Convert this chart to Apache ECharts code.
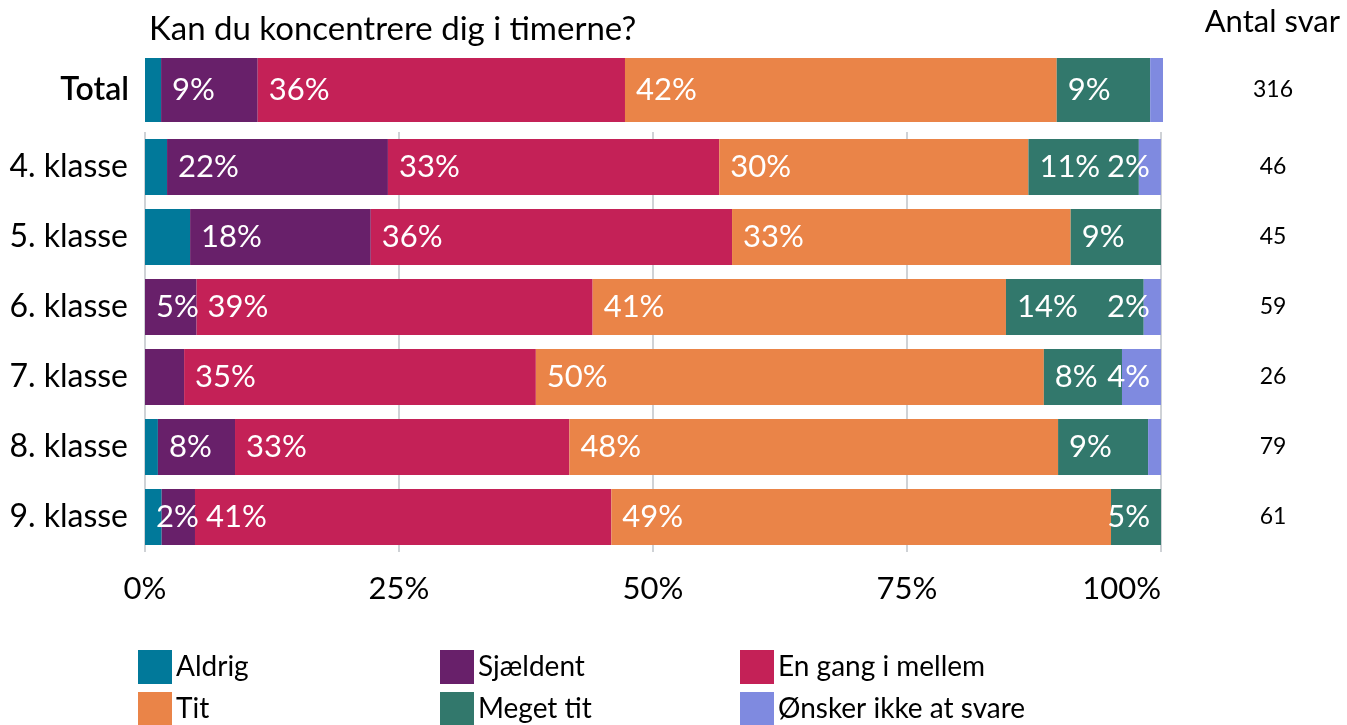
<!DOCTYPE html>
<html>
<head>
<meta charset="utf-8">
<script src="https://cdn.jsdelivr.net/npm/echarts@6/dist/echarts.min.js"></script>
<style>
  html, body { margin: 0; padding: 0; background: #ffffff; }
  #chart { width: 1347px; height: 725px; }
</style>
</head>
<body>
<div id="chart"></div>
<script>
// Survey: "Kan du koncentrere dig i timerne?" — share of answers per grade (percent)
const classes = ['4. klasse', '5. klasse', '6. klasse', '7. klasse', '8. klasse', '9. klasse'];
const classCounts = [46, 45, 59, 26, 79, 61];
const totalLabel = 'Total';
const totalCount = 316;

const answers = ['Aldrig', 'Sjældent', 'En gang i mellem', 'Tit', 'Meget tit', 'Ønsker ikke at svare'];

// Percent per grade, one array per answer
const aldrig    = [2.17, 4.44, 0, 0, 1.27, 1.64];
const sjaeldent = [21.74, 17.78, 5.08, 3.85, 7.59, 3.28];
const engang    = [32.61, 35.56, 38.98, 34.62, 32.91, 40.98];
const tit       = [30.43, 33.33, 40.68, 50.00, 48.10, 49.18];
const megetTit  = [10.87, 8.89, 13.56, 7.69, 8.86, 4.92];
const oensker   = [2.17, 0, 1.69, 3.85, 1.27, 0];

// Percent for all pupils, in the order of `answers`
const totalValues = [1.58, 9.49, 36.08, 42.41, 9.18, 1.27];

const xTicks = [0, 25, 50, 75, 100];

// Segments whose value label is left out
const hiddenLabels = [
  'Total|Aldrig', 'Total|Ønsker ikke at svare',
  '4. klasse|Aldrig', '5. klasse|Aldrig', '7. klasse|Sjældent',
  '8. klasse|Aldrig', '8. klasse|Ønsker ikke at svare', '9. klasse|Sjældent'
];

const colors = ['#01799a', '#68206a', '#c42157', '#ea8448', '#32786c', '#7f8ae0'];
const FONT = 'Lato, "Noto Sans", sans-serif';
const classSeriesValues = [aldrig, sjaeldent, engang, tit, megetTit, oensker];

function makeData(rowNames, values, seriesIdx) {
  return values.map((v, i) => {
    const key = rowNames[i] + '|' + answers[seriesIdx];
    // value up to and including this segment, to see whether it closes the bar
    let end = 0;
    for (let s = 0; s <= seriesIdx; s++) {
      end += rowNames === classes ? classSeriesValues[s][i] : totalValues[s];
    }
    const closesBar = end > 99.9 && v < 8;
    const show = v > 0 && hiddenLabels.indexOf(key) < 0;
    return {
      value: v,
      label: {
        show: show,
        position: closesBar ? 'insideRight' : 'insideLeft',
        distance: 11
      }
    };
  });
}

const labelStyle = {
  color: '#ffffff',
  fontFamily: FONT,
  fontSize: 31,
  formatter: p => Math.round(p.value) + '%'
};

const series = [];
answers.forEach((name, s) => {
  series.push({
    name: name, type: 'bar', stack: 'total',
    xAxisIndex: 0, yAxisIndex: 0,
    barWidth: 64,
    itemStyle: { color: colors[s] },
    label: labelStyle,
    data: makeData([totalLabel], [totalValues[s]], s)
  });
  series.push({
    name: name, type: 'bar', stack: 'classes',
    xAxisIndex: 1, yAxisIndex: 1,
    barWidth: 56,
    itemStyle: { color: colors[s] },
    label: labelStyle,
    data: makeData(classes, classSeriesValues[s], s)
  });
});

// Legend: three columns of two entries each
const legendCols = [[answers[0], answers[3]], [answers[1], answers[4]], [answers[2], answers[5]]];
const legendLeft = [138, 440, 740];
const legends = legendCols.map((items, c) => ({
  data: items,
  left: legendLeft[c], top: 650, height: 76, orient: 'vertical', padding: 0,
  itemWidth: 34, itemHeight: 34, itemGap: 8,
  icon: 'rect', selectedMode: false,
  textStyle: { fontFamily: FONT, fontSize: 28, lineHeight: 34, color: '#000', padding: [0, 0, 0, -1] }
}));

const chart = echarts.init(document.getElementById('chart'), null, { renderer: 'canvas' });
chart.setOption({
  animation: false,
  color: colors,
  textStyle: { fontFamily: FONT },
  title: [
    {
      text: 'Kan du koncentrere dig i timerne?',
      left: 144, top: 8,
      textStyle: { fontFamily: FONT, fontSize: 33, fontWeight: 'normal', color: '#000' }
    },
    {
      text: 'Antal svar',
      right: 2, top: 1,
      textStyle: { fontFamily: FONT, fontSize: 31, fontWeight: 'normal', color: '#000' }
    }
  ],
  legend: legends,
  grid: [
    { left: 145, top: 50, width: 1018, height: 80 },
    { left: 145, top: 132, width: 1016, height: 420 }
  ],
  xAxis: [
    {
      gridIndex: 0, type: 'value', min: 0, max: 100, interval: 25,
      show: false
    },
    {
      gridIndex: 1, type: 'value', min: 0, max: 100, interval: 25,
      axisLine: { show: false }, axisTick: { show: false },
      splitLine: { show: true, lineStyle: { color: '#cfd2d6', width: 2 } },
      axisLabel: {
        fontFamily: FONT, fontSize: 31, color: '#000', margin: 21,
        alignMaxLabel: 'right',
        formatter: v => xTicks.indexOf(v) >= 0 ? v + '%' : ''
      }
    }
  ],
  yAxis: [
    {
      gridIndex: 0, type: 'category', data: [totalLabel], inverse: true,
      axisLine: { show: false }, axisTick: { show: false }, splitLine: { show: false },
      axisLabel: { fontFamily: FONT, fontSize: 32, fontWeight: 600, color: '#000', margin: 16 }
    },
    {
      gridIndex: 1, type: 'category', data: classes, inverse: true,
      axisLine: { show: false }, axisTick: { show: false }, splitLine: { show: false },
      axisLabel: { fontFamily: FONT, fontSize: 32, color: '#000', margin: 17 }
    },
    {
      gridIndex: 0, type: 'category', data: [String(totalCount)], inverse: true, position: 'right',
      axisLine: { show: false }, axisTick: { show: false }, splitLine: { show: false },
      axisLabel: { fontFamily: FONT, fontSize: 23, color: '#000', margin: 110, align: 'center' }
    },
    {
      gridIndex: 1, type: 'category', data: classCounts.map(String), inverse: true, position: 'right',
      axisLine: { show: false }, axisTick: { show: false }, splitLine: { show: false },
      axisLabel: { fontFamily: FONT, fontSize: 23, color: '#000', margin: 112, align: 'center' }
    }
  ],
  series: series
});
</script>
</body>
</html>
